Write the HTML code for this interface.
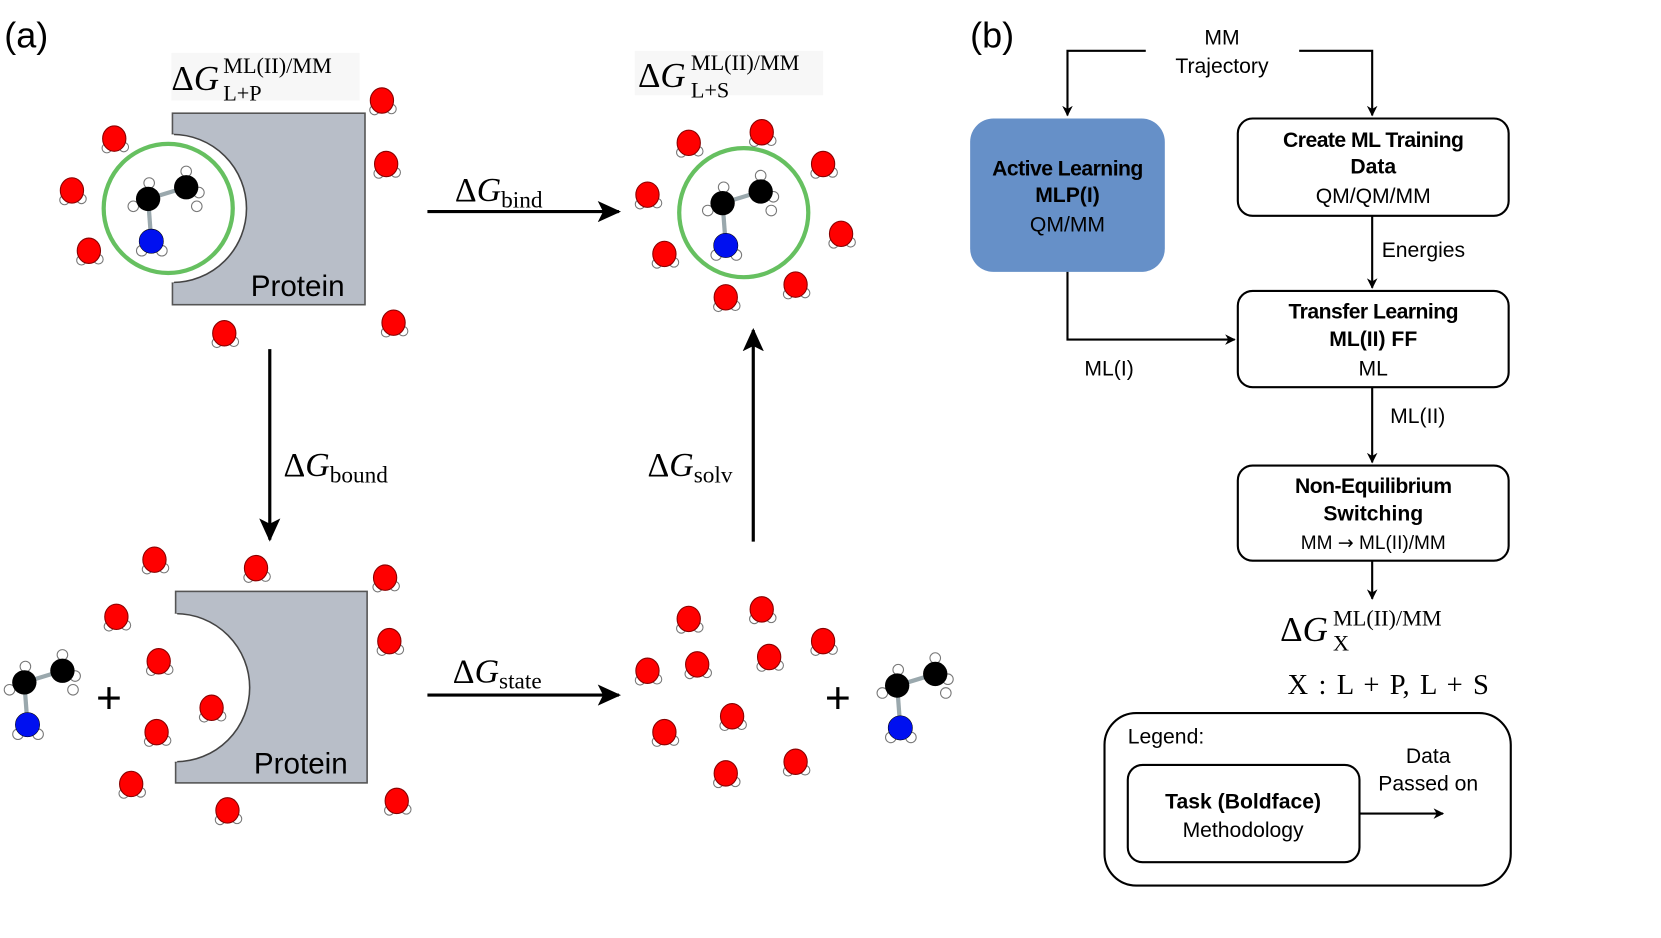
<!DOCTYPE html>
<html><head><meta charset="utf-8"><style>
html,body{margin:0;padding:0;background:#fff;}
svg{display:block;}
.s{font-family:"Liberation Sans",sans-serif;}
.m{font-family:"Liberation Serif",serif;}
</style></head><body>
<svg width="1661" height="938" viewBox="0 0 1570 886.6" xmlns="http://www.w3.org/2000/svg">
<defs>
<marker id="ah" markerWidth="10" markerHeight="10" refX="9" refY="5" orient="auto" markerUnits="userSpaceOnUse" viewBox="0 0 10 10"><path d="M0,0 L10,5 L0,10 L3,5 z" fill="#000"/></marker>
<marker id="ab" markerWidth="22" markerHeight="20" refX="20" refY="10" orient="auto" markerUnits="userSpaceOnUse" viewBox="0 0 22 20"><path d="M0,0 L22,10 L0,20 L5,10 z" fill="#000"/></marker>
<g id="w"><circle cx="-7" cy="9" r="4.5" fill="#fff" stroke="#777" stroke-width="1"/><circle cx="9" cy="8" r="4.5" fill="#fff" stroke="#777" stroke-width="1"/><ellipse cx="0" cy="0" rx="11" ry="12" fill="#f00" stroke="#800" stroke-width="1"/></g>
<g id="mol">
<line x1="0" y1="0" x2="36" y2="-11" stroke="#9aa8ad" stroke-width="4"/>
<line x1="0" y1="0" x2="3" y2="40" stroke="#9aa8ad" stroke-width="4"/>
<circle cx="1" cy="-15" r="5" fill="#fff" stroke="#777"/><circle cx="-14" cy="7" r="5" fill="#fff" stroke="#777"/>
<circle cx="36" cy="-26" r="5" fill="#fff" stroke="#777"/><circle cx="48" cy="-6" r="5" fill="#fff" stroke="#777"/><circle cx="46" cy="7" r="5" fill="#fff" stroke="#777"/>
<circle cx="-6" cy="49" r="5" fill="#fff" stroke="#777"/><circle cx="13" cy="49" r="5" fill="#fff" stroke="#777"/>
<circle cx="0" cy="0" r="11.5" fill="#000"/><circle cx="36" cy="-11" r="11.5" fill="#000"/><circle cx="3" cy="40" r="11.5" fill="#0010f0" stroke="#000" stroke-width="0.5"/>
</g>
</defs>

<text x="4" y="45" class="s" font-size="34">(a)</text>

<rect x="162" y="50" width="178" height="45" fill="#f7f7f7"/>
<text x="162" y="85" class="m" font-size="33" font-style="italic"><tspan font-style="normal">Δ</tspan>G</text>
<text x="211" y="69" class="m" font-size="21">ML(II)/MM</text>
<text x="211" y="95" class="m" font-size="21">L+P</text>
<rect x="163" y="107" width="182" height="181" fill="#b8bec8" stroke="#555" stroke-width="1.5"/>
<path d="M163,127 A70,70 0 0 1 163,267 Z" fill="#fff" stroke="#444" stroke-width="1.5"/>
<line x1="163" y1="127" x2="163" y2="267" stroke="#fff" stroke-width="3"/>
<text x="237" y="280" class="s" font-size="28">Protein</text>
<circle cx="159" cy="197" r="61" fill="none" stroke="#66c060" stroke-width="4"/>
<use href="#mol" x="140" y="188"/>
<use href="#w" x="108" y="131"/><use href="#w" x="68" y="180"/><use href="#w" x="84" y="237"/><use href="#w" x="212" y="315"/><use href="#w" x="361" y="95"/><use href="#w" x="365" y="155"/><use href="#w" x="372" y="305"/>

<line x1="404" y1="200" x2="585" y2="200" stroke="#000" stroke-width="3" marker-end="url(#ab)"/>
<text x="430" y="190" class="m" font-size="32" font-style="italic"><tspan font-style="normal">Δ</tspan>G<tspan font-style="normal" font-size="22" dy="6">bind</tspan></text>

<rect x="600" y="48" width="178" height="42" fill="#f7f7f7"/>
<text x="603" y="82" class="m" font-size="33" font-style="italic"><tspan font-style="normal">Δ</tspan>G</text>
<text x="653" y="66" class="m" font-size="21">ML(II)/MM</text>
<text x="653" y="92" class="m" font-size="21">L+S</text>
<circle cx="703" cy="201" r="61" fill="none" stroke="#66c060" stroke-width="4"/>
<use href="#mol" x="683" y="192"/>
<use href="#w" x="651" y="135"/><use href="#w" x="720" y="125"/><use href="#w" x="778" y="155"/><use href="#w" x="612" y="184"/><use href="#w" x="795" y="221"/><use href="#w" x="628" y="240"/><use href="#w" x="752" y="269"/><use href="#w" x="686" y="281"/>

<line x1="255" y1="330" x2="255" y2="510" stroke="#000" stroke-width="3" marker-end="url(#ab)"/>
<text x="268" y="450" class="m" font-size="32" font-style="italic"><tspan font-style="normal">Δ</tspan>G<tspan font-style="normal" font-size="22" dy="6">bound</tspan></text>
<line x1="712" y1="512" x2="712" y2="312" stroke="#000" stroke-width="3" marker-end="url(#ab)"/>
<text x="612" y="450" class="m" font-size="32" font-style="italic"><tspan font-style="normal">Δ</tspan>G<tspan font-style="normal" font-size="22" dy="6">solv</tspan></text>

<rect x="166" y="559" width="181" height="181" fill="#b8bec8" stroke="#555" stroke-width="1.5"/>
<path d="M166,580 A70,70 0 0 1 166,720 Z" fill="#fff" stroke="#444" stroke-width="1.5"/>
<line x1="166" y1="580" x2="166" y2="720" stroke="#fff" stroke-width="3"/>
<text x="240" y="731" class="s" font-size="28">Protein</text>
<use href="#w" x="146" y="529"/><use href="#w" x="242" y="537"/><use href="#w" x="364" y="546"/><use href="#w" x="110" y="583"/><use href="#w" x="150" y="625"/><use href="#w" x="368" y="606"/><use href="#w" x="200" y="669"/><use href="#w" x="148" y="692"/><use href="#w" x="124" y="741"/><use href="#w" x="215" y="766"/><use href="#w" x="375" y="757"/>
<use href="#mol" x="23" y="645"/>
<text x="103" y="674" class="s" font-size="42" text-anchor="middle">+</text>

<line x1="404" y1="657" x2="585" y2="657" stroke="#000" stroke-width="3" marker-end="url(#ab)"/>
<text x="428" y="645" class="m" font-size="32" font-style="italic"><tspan font-style="normal">Δ</tspan>G<tspan font-style="normal" font-size="22" dy="6">state</tspan></text>

<use href="#w" x="651" y="585"/><use href="#w" x="720" y="576"/><use href="#w" x="778" y="606"/><use href="#w" x="612" y="634"/><use href="#w" x="659" y="628"/><use href="#w" x="727" y="621"/><use href="#w" x="692" y="677"/><use href="#w" x="628" y="692"/><use href="#w" x="752" y="720"/><use href="#w" x="686" y="731"/>
<text x="792" y="674" class="s" font-size="42" text-anchor="middle">+</text>
<use href="#mol" x="848" y="648"/>

<text x="917" y="45" class="s" font-size="34">(b)</text>
<g class="s" font-size="20" text-anchor="middle">
<text x="1155" y="42">MM</text><text x="1155" y="69">Trajectory</text>
</g>
<polyline points="1083,48 1009,48 1009,109" fill="none" stroke="#000" stroke-width="2" marker-end="url(#ah)"/>
<polyline points="1228,48 1297,48 1297,109" fill="none" stroke="#000" stroke-width="2" marker-end="url(#ah)"/>

<rect x="917" y="112" width="184" height="145" rx="22" fill="#6690c8"/>
<g class="s" text-anchor="middle" font-size="20">
<text x="1009" y="166" font-weight="bold" letter-spacing="-0.5">Active Learning</text>
<text x="1009" y="191" font-weight="bold">MLP(I)</text>
<text x="1009" y="219">QM/MM</text>
</g>

<rect x="1170" y="112" width="256" height="92" rx="14" fill="#fff" stroke="#000" stroke-width="2"/>
<g class="s" text-anchor="middle" font-size="20">
<text x="1298" y="139" font-weight="bold" letter-spacing="-0.5">Create ML Training</text>
<text x="1298" y="164" font-weight="bold">Data</text>
<text x="1298" y="192">QM/QM/MM</text>
</g>
<line x1="1297" y1="204" x2="1297" y2="272" stroke="#000" stroke-width="2" marker-end="url(#ah)"/>
<text x="1306" y="243" class="s" font-size="20">Energies</text>

<rect x="1170" y="275" width="256" height="91" rx="14" fill="#fff" stroke="#000" stroke-width="2"/>
<g class="s" text-anchor="middle" font-size="20">
<text x="1298" y="301" font-weight="bold" letter-spacing="-0.5">Transfer Learning</text>
<text x="1298" y="327" font-weight="bold">ML(II) FF</text>
<text x="1298" y="355">ML</text>
</g>
<polyline points="1009,257 1009,321 1167,321" fill="none" stroke="#000" stroke-width="2" marker-end="url(#ah)"/>
<text x="1025" y="355" class="s" font-size="20">ML(I)</text>
<line x1="1297" y1="366" x2="1297" y2="437" stroke="#000" stroke-width="2" marker-end="url(#ah)"/>
<text x="1314" y="400" class="s" font-size="20">ML(II)</text>

<rect x="1170" y="440" width="256" height="90" rx="14" fill="#fff" stroke="#000" stroke-width="2"/>
<g class="s" text-anchor="middle" font-size="20">
<text x="1298" y="466" font-weight="bold" letter-spacing="-0.5">Non-Equilibrium</text>
<text x="1298" y="492" font-weight="bold">Switching</text>
<text x="1298" y="519" font-size="18">MM <tspan font-family="DejaVu Sans">→</tspan> ML(II)/MM</text>
</g>
<line x1="1297" y1="530" x2="1297" y2="566" stroke="#000" stroke-width="2" marker-end="url(#ah)"/>

<text x="1210" y="606" class="m" font-size="33" font-style="italic"><tspan font-style="normal">Δ</tspan>G</text>
<text x="1260" y="591" class="m" font-size="21">ML(II)/MM</text>
<text x="1260" y="615" class="m" font-size="21">X</text>
<text x="1217" y="656" class="m" font-size="27" word-spacing="3">X :  L + P,  L + S</text>

<rect x="1044" y="674" width="384" height="163" rx="30" fill="#fff" stroke="#000" stroke-width="2"/>
<text x="1066" y="703" class="s" font-size="20">Legend:</text>
<rect x="1066" y="723" width="219" height="92" rx="14" fill="#fff" stroke="#000" stroke-width="2"/>
<g class="s" text-anchor="middle" font-size="20">
<text x="1175" y="764" font-weight="bold">Task (Boldface)</text>
<text x="1175" y="791">Methodology</text>
<text x="1350" y="721">Data</text>
<text x="1350" y="747">Passed on</text>
</g>
<line x1="1285" y1="769" x2="1364" y2="769" stroke="#000" stroke-width="2" marker-end="url(#ah)"/>
</svg>
</body></html>
